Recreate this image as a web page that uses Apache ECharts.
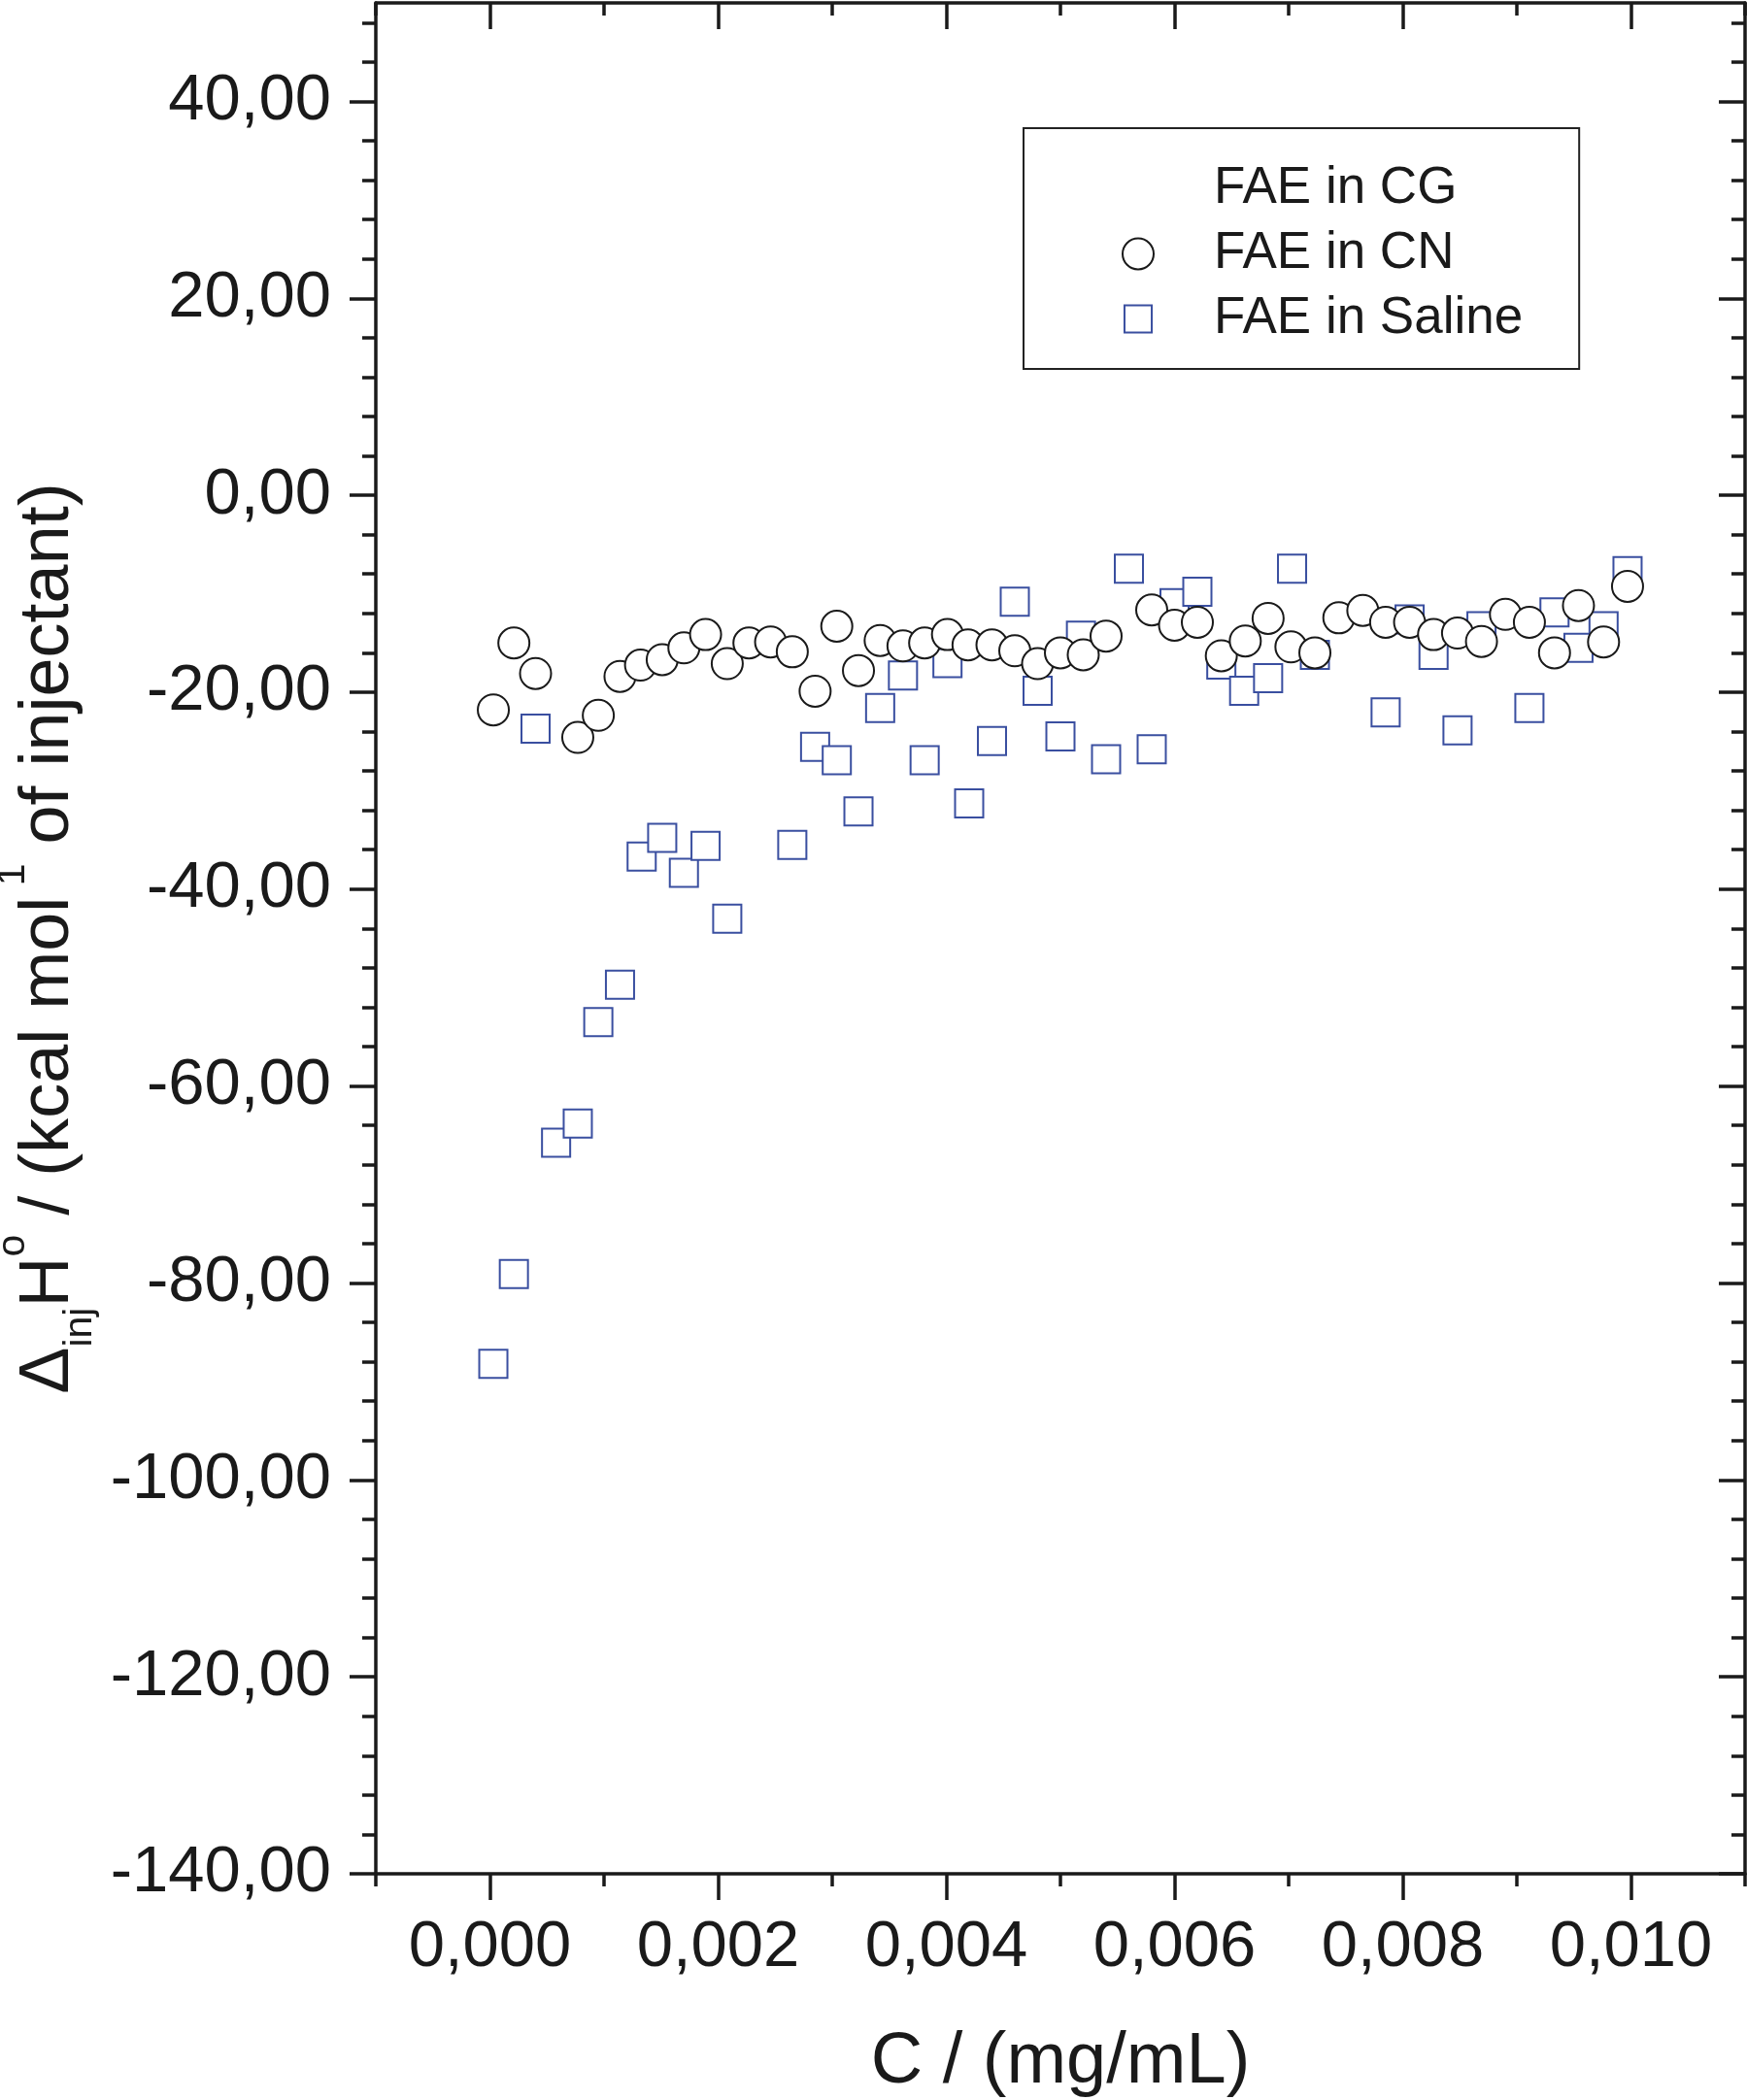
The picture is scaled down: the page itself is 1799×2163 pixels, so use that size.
<!DOCTYPE html>
<html>
<head>
<meta charset="utf-8">
<script src="https://cdn.jsdelivr.net/npm/echarts@6/dist/echarts.min.js"></script>
<style>html,body{margin:0;padding:0;background:#fff}#c{width:1799px;height:2163px}</style>
</head>
<body>
<div id="c"></div>
<script>
// ---- data ----
const cnX = [0.00003,0.00021,0.00040,0.00077,0.00095,0.00114,0.00132,0.00151,0.00170,0.00189,0.00208,0.00227,0.00246,0.00265,0.00285,0.00304,0.00323,0.00342,0.00362,0.00381,0.00401,0.00419,0.00440,0.00460,0.00480,0.00500,0.00520,0.00540,0.00580,0.00600,0.00620,0.00641,0.00662,0.00682,0.00702,0.00723,0.00744,0.00765,0.00785,0.00806,0.00827,0.00848,0.00869,0.00890,0.00911,0.00933,0.00954,0.00976,0.00997];
const cnY = [-21.8,-15.0,-18.1,-24.6,-22.35,-18.4,-17.25,-16.7,-15.5,-14.15,-17.1,-15.0,-14.9,-15.9,-19.9,-13.3,-17.8,-14.75,-15.3,-15.0,-14.15,-15.2,-15.2,-15.8,-17.1,-16.0,-16.2,-14.3,-11.65,-13.2,-12.9,-16.3,-14.8,-12.5,-15.4,-16.0,-12.45,-11.7,-12.9,-12.9,-14.15,-14.0,-14.85,-12.1,-12.9,-16.0,-11.2,-14.9,-9.25];
const salX = [0.00003,0.00021,0.00040,0.00058,0.00077,0.00095,0.00114,0.00133,0.00151,0.00170,0.00189,0.00208,0.00265,0.00285,0.00304,0.00323,0.00342,0.00362,0.00381,0.00401,0.00420,0.00440,0.00460,0.00480,0.00500,0.00518,0.00540,0.00560,0.00580,0.00600,0.00620,0.00641,0.00661,0.00682,0.00703,0.00723,0.00785,0.00806,0.00827,0.00848,0.00869,0.00911,0.00933,0.00954,0.00976,0.00997];
const salY = [-88.2,-79.1,-23.7,-65.75,-63.8,-53.5,-49.7,-36.7,-34.8,-38.35,-35.6,-43.0,-35.5,-25.55,-26.9,-32.1,-21.6,-18.3,-26.9,-17.05,-31.3,-24.95,-10.8,-19.85,-24.5,-14.25,-26.8,-7.47,-25.8,-10.96,-9.8,-17.2,-19.85,-18.57,-7.47,-16.2,-22.06,-12.6,-16.2,-23.87,-13.3,-21.6,-11.9,-15.5,-13.3,-7.7];
const seriesNames = ['FAE in CG', 'FAE in CN', 'FAE in Saline'];
const xTickLabels = [0, 0.002, 0.004, 0.006, 0.008, 0.010];
const yTickLabels = [-140, -120, -100, -80, -60, -40, -20, 0, 20, 40];

const FONT = 'Liberation Sans, Arial, sans-serif';
const INK = '#1a1a1a';
const BLUE = '#3a4fa0';
const AXW = 3.5;
const SQUARE_ICON = 'path://M-0.7,-0.7 M0,0 L10,0 L10,10 L0,10 Z M10.7,10.7';

const cnData = cnX.map((x, i) => [x, cnY[i]]);
const salData = salX.map((x, i) => [x, salY[i]]);

function xAx(pos, longTicks, showLine, showLabel) {
  const a = {
    type: 'value', position: pos, min: -0.001, max: 0.011, interval: 0.001,
    splitLine: { show: false },
    axisLine: { show: showLine, onZero: false, lineStyle: { color: INK, width: AXW } },
    axisTick: { show: true, inside: pos === 'top', length: longTicks ? 27 : 13,
      lineStyle: { color: INK, width: AXW } },
    axisLabel: { show: showLabel, margin: 43, fontFamily: FONT, fontSize: 67, color: INK,
      formatter: v => v.toFixed(3).replace('.', ',') }
  };
  if (longTicks) a.axisTick.customValues = xTickLabels;
  if (showLabel) a.axisLabel.customValues = xTickLabels;
  return a;
}

function yAx(pos) {
  const left = pos === 'left';
  return {
    type: 'value', position: pos, min: -140, max: 50, interval: 20,
    splitLine: { show: false },
    axisLine: { show: true, onZero: false, lineStyle: { color: INK, width: AXW } },
    axisTick: { show: true, inside: !left, length: 27, customValues: yTickLabels,
      lineStyle: { color: INK, width: AXW } },
    minorTick: { show: true, splitNumber: 5, length: 14, lineStyle: { color: INK, width: AXW } },
    axisLabel: { show: left, margin: 46, fontFamily: FONT, fontSize: 67, color: INK,
      customValues: yTickLabels, formatter: v => v.toFixed(2).replace('.', ',') },
    name: left ? '{a|Δ}{sub|inj}{a|H}{sup|o}{a| / (kcal mol}{sup| 1}{a| of injectant)}' : '',
    nameLocation: 'middle', nameGap: 269, nameRotate: 90,
    nameTextStyle: {
      fontFamily: FONT, fontSize: 72, color: INK,
      rich: {
        a: { fontFamily: FONT, fontSize: 72, color: INK },
        sub: { fontFamily: FONT, fontSize: 41, color: INK, padding: [65, 0, 0, 0] },
        sup: { fontFamily: FONT, fontSize: 41, color: INK, padding: [0, 0, 72, 0] }
      }
    }
  };
}

const chart = echarts.init(document.getElementById('c'), null, { renderer: 'canvas' });
chart.setOption({
  backgroundColor: '#fff',
  animation: false,
  grid: { left: 387, right: 2, top: 3, bottom: 233, containLabel: false, outerBoundsMode: 'none' },
  xAxis: [
    Object.assign(xAx('bottom', true, true, true), {
      name: 'C / (mg/mL)', nameLocation: 'middle', nameGap: 158,
      nameTextStyle: { fontFamily: FONT, fontSize: 74, color: INK }
    }),
    xAx('bottom', false, false, false),
    xAx('top', true, true, false),
    xAx('top', false, false, false)
  ],
  yAxis: [yAx('left'), yAx('right')],
  legend: {
    orient: 'vertical', left: 1054, top: 132,
    padding: [36, 58, 25, 101],
    itemWidth: 32, itemHeight: 32, itemGap: 14,
    borderColor: '#222', borderWidth: 2, borderRadius: 0,
    selectedMode: false, symbolKeepAspect: true,
    textStyle: { fontFamily: FONT, fontSize: 53, color: INK, lineHeight: 53, padding: [0, 0, 0, 57] },
    data: [
      { name: seriesNames[0], icon: 'circle', itemStyle: { color: 'rgba(0,0,0,0)', borderColor: 'rgba(0,0,0,0)', borderWidth: 0 } },
      { name: seriesNames[1], icon: 'circle', itemStyle: { color: '#fff', borderColor: INK, borderWidth: 2 } },
      { name: seriesNames[2], icon: SQUARE_ICON, itemStyle: { color: '#fff', borderColor: BLUE, borderWidth: 2 } }
    ]
  },
  series: [
    { name: seriesNames[0], type: 'scatter', data: [], symbol: 'circle', symbolSize: 32,
      itemStyle: { color: 'rgba(0,0,0,0)', borderColor: 'rgba(0,0,0,0)' } },
    { name: seriesNames[2], type: 'scatter', data: salData, symbol: 'rect', symbolSize: 29,
      itemStyle: { color: '#fff', borderColor: BLUE, borderWidth: 2, opacity: 1 },
      emphasis: { disabled: true } },
    { name: seriesNames[1], type: 'scatter', data: cnData, symbol: 'circle', symbolSize: 32,
      itemStyle: { color: '#fff', borderColor: INK, borderWidth: 2, opacity: 1 },
      emphasis: { disabled: true } }
  ]
});
</script>
</body>
</html>
